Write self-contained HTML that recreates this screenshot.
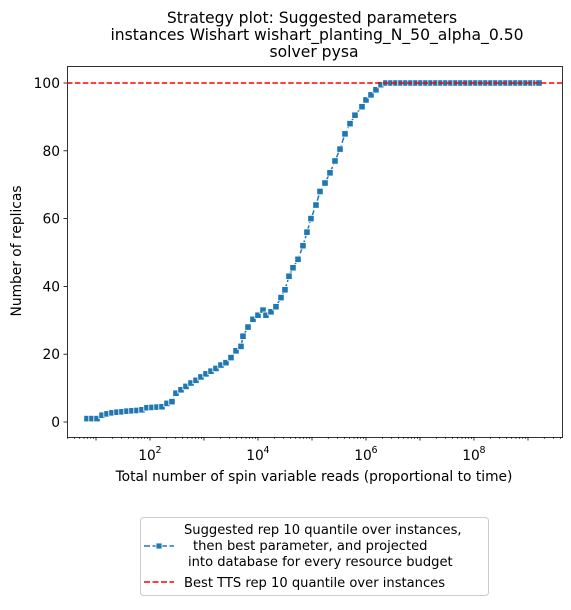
<!DOCTYPE html>
<html><head><meta charset="utf-8"><style>
body{margin:0;background:#fff;font-family:"Liberation Sans","DejaVu Sans",sans-serif;}
svg text{font-family:"DejaVu Sans","Liberation Sans",sans-serif;}
</style></head><body>
<svg id="chart" width="571" height="605" viewBox="0 0 571 605" xmlns="http://www.w3.org/2000/svg">
<g font-size="15.6" text-anchor="middle" fill="#000">
<text x="312" y="23">Strategy plot: Suggested parameters</text>
<text x="317" y="40">instances Wishart wishart_planting_N_50_alpha_0.50</text>
<text x="314" y="57">solver pysa</text>
</g>
<g id="plot"></g>
<g>
<rect x="140.5" y="517.5" width="348" height="78" rx="3" fill="#fff" stroke="#ccc"/>
<g>
<line x1="144" y1="546" x2="174" y2="546" stroke="#1f77b4" stroke-width="1.5" stroke-dasharray="6,2.5"/>
<rect x="156" y="543" width="6" height="6" fill="#1f77b4" stroke="#fff" stroke-width="0.8"/>
<text x="184" y="534" font-size="13.1">Suggested rep 10 quantile over instances,</text>
<text x="193" y="550" font-size="13.1">then best parameter, and projected</text>
<text x="188" y="566" font-size="13.1">into database for every resource budget</text>
</g>
<g>
<line x1="144" y1="582" x2="174" y2="582" stroke="red" stroke-width="1.5" stroke-dasharray="6,2.5"/>
<text x="184" y="587" font-size="13.1">Best TTS rep 10 quantile over instances</text>
</g>
</g>
</svg>
<script>
const xExp=[0.833,0.926,1.019,1.111,1.204,1.296,1.389,1.481,1.574,1.667,1.759,1.852,1.944,2.037,2.130,2.222,2.315,2.407,2.481,2.574,2.667,2.759,2.852,2.944,3.037,3.130,3.222,3.315,3.407,3.5,3.593,3.685,3.722,3.815,3.907,4.0,4.093,4.148,4.241,4.333,4.426,4.5,4.574,4.648,4.741,4.833,4.907,4.981,5.074,5.148,5.241,5.333,5.426,5.519,5.611,5.704,5.796,5.926,6.0,6.093,6.185,6.278,6.370,6.463,6.556,6.648,6.741,6.833,6.926,7.019,7.111,7.204,7.296,7.389,7.481,7.574,7.667,7.759,7.852,7.944,8.037,8.130,8.222,8.315,8.407,8.5,8.593,8.685,8.778,8.870,8.963,9.056,9.148,9.204];
const replicas=[1,1,1,2,2.4,2.7,2.9,3,3.2,3.3,3.4,3.6,4.2,4.3,4.4,4.5,5.5,6,8.5,9.5,10.5,11.5,12.3,13.3,14.2,15,15.8,16.8,17.5,19,21,22.3,25.3,28,30.3,31.5,33,31.5,32.5,34,36.7,39,43,45.5,48,52,56,60,64,68,70.5,73.5,77,80.5,85,88,90.5,93,95,96.5,98,99.5,100,100,100,100,100,100,100,100,100,100,100,100,100,100,100,100,100,100,100,100,100,100,100,100,100,100,100,100,100,100,100,100];
const bestTTS=100;
const yTicks=[0,20,40,60,80,100];
const xTickExps=[2,4,6,8];
const X0=67,X1=562,Y0=66,Y1=437;
const xs=e=>X0+(e-0.463)/(9.63-0.463)*(X1-X0);
const ys=v=>422-v*3.39;
const NS="http://www.w3.org/2000/svg";
const g=document.getElementById('plot');
function mk(t,a,p){const el=document.createElementNS(NS,t);for(const k in a)el.setAttribute(k,a[k]);(p||g).appendChild(el);return el;}
const frame=mk('rect',{x:X0+.5,y:Y0+.5,width:X1-X0,height:Y1-Y0,fill:'none',stroke:'#000','stroke-width':0.8});


yTicks.forEach(v=>{const y=ys(v);
 const l=mk('line',{x1:X0-3.5,x2:X0,y1:y,y2:y,stroke:'#000','stroke-width':0.8});
 
 
 const t=mk('text',{x:X0-7,y:y+5,'font-size':13.8,'text-anchor':'end'});t.textContent=v;
 
 
});
for(let d=0;d<=9;d++){for(let m=2;m<=9;m++){const e=d+Math.log10(m);if(e<0.463||e>9.63)continue;
 const l=mk('line',{x1:xs(e),x2:xs(e),y1:Y1,y2:Y1+2,stroke:'#000','stroke-width':0.6});
 
 }
 if(d>=1&&d<=9){const l=mk('line',{x1:xs(d),x2:xs(d),y1:Y1,y2:Y1+3.5,stroke:'#000','stroke-width':0.8});
 
 }}
xTickExps.forEach(e=>{const x=xs(e);
 const t=mk('text',{x:x-3,y:Y1+23,'font-size':13.8,'text-anchor':'middle'});t.textContent='10';
 
 
 const s=mk('text',{x:x+5.5,y:Y1+16,'font-size':9.5});s.textContent=e;
 
 
});
const xt=mk('text',{x:314,y:481,'font-size':13.8,'text-anchor':'middle'});xt.textContent='Total number of spin variable reads (proportional to time)';


const yt=mk('text',{x:0,y:0,'font-size':13.8,'text-anchor':'middle',transform:'translate(21,251) rotate(-90)'});yt.textContent='Number of replicas';


const pts=xExp.map((e,i)=>xs(e).toFixed(1)+','+ys(replicas[i]).toFixed(1)).join(' ');
const pl=mk('polyline',{points:pts,fill:'none',stroke:'#1f77b4','stroke-width':1.5,'stroke-dasharray':'5.5,2.4'});


xExp.forEach((e,i)=>{const r=mk('rect',{x:xs(e)-3.2,y:ys(replicas[i])-3.2,width:6.4,height:6.4,fill:'#1f77b4',stroke:'#fff','stroke-width':0.8});
 
 });
const bl=mk('line',{x1:X0,x2:X1,y1:ys(bestTTS),y2:ys(bestTTS),stroke:'red','stroke-width':1.5,'stroke-dasharray':'5.5,2.4'});


</script>
</body></html>
